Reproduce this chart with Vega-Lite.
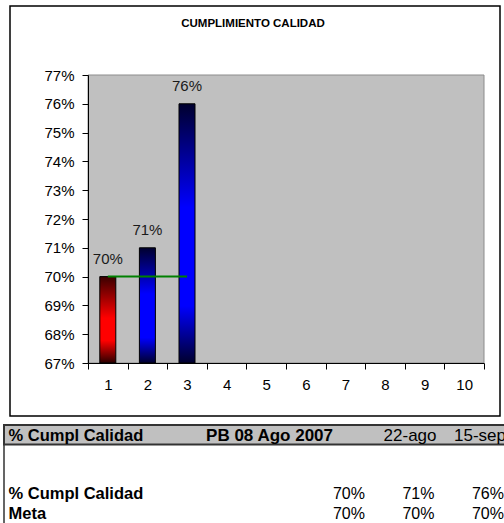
{
  "$schema": "https://vega.github.io/schema/vega-lite/v6.json",
  "background": "white",
  "padding": {"left": 2, "top": 5, "right": 0, "bottom": 0},
  "bounds": "flush",
  "center": true,
  "spacing": 9,
  "config": {"font": "Liberation Sans"},
  "datasets": {
    "calidad": [
      {"n": 1, "fecha": "PB 08 Ago 2007", "% Cumpl Calidad": 0.70, "Meta": 0.70},
      {"n": 2, "fecha": "22-ago", "% Cumpl Calidad": 0.71, "Meta": 0.70},
      {"n": 3, "fecha": "15-sep", "% Cumpl Calidad": 0.76, "Meta": 0.70}
    ]
  },
  "vconcat": [
    {
      "width": 490,
      "height": 410,
      "view": {"fill": "white", "stroke": "#000", "strokeWidth": 1.5},
      "title": {
        "text": "CUMPLIMIENTO CALIDAD",
        "fontSize": 11.5,
        "fontWeight": "bold",
        "color": "#000",
        "anchor": "middle",
        "baseline": "alphabetic",
        "offset": -32,
        "dx": -2
      },
      "layer": [
        {
          "data": {"values": [{}]},
          "mark": {"type": "rect", "fill": "#c0c0c0", "stroke": "#8c8c8c", "strokeWidth": 1},
          "encoding": {
            "x": {
              "datum": 0.5,
              "type": "quantitative",
              "scale": {"domain": [0.5, 10.5], "range": [78, 474], "nice": false, "zero": false, "padding": 0},
              "axis": {
                "orient": "bottom",
                "offset": -53,
                "zindex": 1,
                "title": null,
                "grid": false,
                "values": [0.5, 1, 1.5, 2, 2.5, 3, 3.5, 4, 4.5, 5, 5.5, 6, 6.5, 7, 7.5, 8, 8.5, 9, 9.5, 10, 10.5],
                "domainColor": "#000",
                "domainWidth": 1,
                "tickColor": "#000",
                "tickSize": 6,
                "tickOpacity": {"condition": {"test": "datum.value % 1 === 0", "value": 0}, "value": 1},
                "labelExpr": "datum.value % 1 === 0 ? format(datum.value, 'd') : ''",
                "labelFontSize": 15,
                "labelColor": "#000",
                "labelPadding": 8,
                "labelOverlap": false,
                "labelFlush": false,
                "labelBound": false
              }
            },
            "x2": {"datum": 10.5},
            "y": {
              "datum": 0.67,
              "type": "quantitative",
              "scale": {"domain": [0.67, 0.77], "range": [357, 69], "nice": false, "zero": false, "padding": 0},
              "axis": {
                "orient": "left",
                "offset": -78,
                "zindex": 1,
                "title": null,
                "grid": false,
                "values": [0.67, 0.68, 0.69, 0.7, 0.71, 0.72, 0.73, 0.74, 0.75, 0.76, 0.77],
                "format": ".0%",
                "domainColor": "#000",
                "domainWidth": 1,
                "tickColor": "#000",
                "tickSize": 6,
                "labelFontSize": 15,
                "labelColor": "#000",
                "labelPadding": 8,
                "labelOverlap": false,
                "labelFlush": false,
                "labelBound": false
              }
            },
            "y2": {"datum": 0.77}
          }
        },
        {
          "data": {"name": "calidad"},
          "encoding": {
            "x": {
              "field": "n",
              "type": "quantitative",
              "scale": {"domain": [0.5, 10.5], "range": [78, 474], "nice": false, "zero": false, "padding": 0},
              "axis": {
                "orient": "bottom",
                "offset": -53,
                "zindex": 1,
                "title": null,
                "grid": false,
                "values": [0.5, 1, 1.5, 2, 2.5, 3, 3.5, 4, 4.5, 5, 5.5, 6, 6.5, 7, 7.5, 8, 8.5, 9, 9.5, 10, 10.5],
                "domainColor": "#000",
                "domainWidth": 1,
                "tickColor": "#000",
                "tickSize": 6,
                "tickOpacity": {"condition": {"test": "datum.value % 1 === 0", "value": 0}, "value": 1},
                "labelExpr": "datum.value % 1 === 0 ? format(datum.value, 'd') : ''",
                "labelFontSize": 15,
                "labelColor": "#000",
                "labelPadding": 8,
                "labelOverlap": false,
                "labelFlush": false,
                "labelBound": false
              }
            },
            "y": {
              "field": "% Cumpl Calidad",
              "type": "quantitative",
              "scale": {"domain": [0.67, 0.77], "range": [357, 69], "nice": false, "zero": false, "padding": 0},
              "axis": {
                "orient": "left",
                "offset": -78,
                "zindex": 1,
                "title": null,
                "grid": false,
                "values": [0.67, 0.68, 0.69, 0.7, 0.71, 0.72, 0.73, 0.74, 0.75, 0.76, 0.77],
                "format": ".0%",
                "domainColor": "#000",
                "domainWidth": 1,
                "tickColor": "#000",
                "tickSize": 6,
                "labelFontSize": 15,
                "labelColor": "#000",
                "labelPadding": 8,
                "labelOverlap": false,
                "labelFlush": false,
                "labelBound": false
              }
            }
          },
          "layer": [
            {
              "transform": [{"filter": "datum.n === 1"}],
              "mark": {
                "type": "bar",
                "width": 16,
                "stroke": "#000",
                "strokeWidth": 1,
                "fill": {
                  "gradient": "linear", "x1": 0, "y1": 0, "x2": 0, "y2": 1,
                  "stops": [
                    {"offset": 0, "color": "#3a0000"},
                    {"offset": 0.48, "color": "#ff0000"},
                    {"offset": 0.74, "color": "#ff0000"},
                    {"offset": 1, "color": "#2a0000"}
                  ]
                }
              },
              "encoding": {"y2": {"datum": 0.67}}
            },
            {
              "transform": [{"filter": "datum.n !== 1"}],
              "mark": {
                "type": "bar",
                "width": 16,
                "stroke": "#000",
                "strokeWidth": 1,
                "fill": {
                  "gradient": "linear", "x1": 0, "y1": 0, "x2": 0, "y2": 1,
                  "stops": [
                    {"offset": 0, "color": "#00002e"},
                    {"offset": 0.4, "color": "#0000ff"},
                    {"offset": 0.78, "color": "#0000ff"},
                    {"offset": 1, "color": "#00002e"}
                  ]
                }
              },
              "encoding": {"y2": {"datum": 0.67}}
            },
            {
              "mark": {"type": "line", "color": "#008000", "strokeWidth": 2},
              "encoding": {"y": {"field": "Meta", "type": "quantitative"}}
            },
            {
              "mark": {"type": "text", "baseline": "alphabetic", "dy": -12.5, "fontSize": 15, "color": "#1a1a1a"},
              "encoding": {"text": {"field": "% Cumpl Calidad", "type": "quantitative", "format": ".0%"}}
            }
          ]
        }
      ]
    },
    {
      "width": 502,
      "height": 100,
      "view": {"fill": "white", "stroke": "#333", "strokeWidth": 1.5},
      "data": {"name": "calidad"},
      "layer": [
        {
          "data": {"values": [{}]},
          "mark": {"type": "rect", "fill": "#c0c0c0", "stroke": "#333", "strokeWidth": 2},
          "encoding": {
            "y": {
              "datum": "fechas",
              "type": "nominal",
              "scale": {"domain": ["fechas", "blanco1", "blanco2", "% Cumpl Calidad", "Meta"], "range": [0, 97.5], "paddingInner": 0, "paddingOuter": 0}
            }
          }
        },
        {
          "transform": [{"fold": ["% Cumpl Calidad", "Meta"], "as": ["fila", "valor"]}],
          "mark": {"type": "text", "align": "right", "baseline": "alphabetic", "fontSize": 16, "dy": 5.75, "color": "#000"},
          "encoding": {
            "x": {
              "field": "fecha",
              "type": "nominal",
              "scale": {"type": "point", "domain": ["PB 08 Ago 2007", "22-ago", "15-sep"], "range": [361, 500], "padding": 0},
              "axis": null
            },
            "y": {
              "field": "fila",
              "type": "nominal",
              "axis": {
                "orient": "left",
                "zindex": 1,
                "domain": false,
                "ticks": false,
                "tickSize": 0,
                "title": "% Cumpl Calidad",
                "titleAngle": 0,
                "titleAlign": "left",
                "titleBaseline": "alphabetic",
                "titleX": 4,
                "titleY": 15.5,
                "titleFontSize": 16.5,
                "titleFontWeight": "bold",
                "titleColor": "#000",
                "labelAlign": "left",
                "labelBaseline": "alphabetic",
                "labelPadding": -4,
                "labelOffset": 5.75,
                "labelFontSize": 16.5,
                "labelFontWeight": "bold",
                "labelColor": "#000",
                "labelOverlap": false,
                "labelBound": false,
                "labelExpr": "datum.value === '% Cumpl Calidad' || datum.value === 'Meta' ? datum.value : ''"
              }
            },
            "text": {"field": "valor", "type": "quantitative", "format": ".0%"}
          }
        },
        {
          "transform": [{"filter": "datum.n === 1"}],
          "mark": {"type": "text", "align": "right", "baseline": "alphabetic", "fontSize": 17, "fontWeight": "bold", "dx": -32, "dy": 5.75, "color": "#000"},
          "encoding": {
            "x": {"field": "fecha", "type": "nominal", "axis": null},
            "y": {"datum": "fechas", "type": "nominal"},
            "text": {"field": "fecha"}
          }
        },
        {
          "transform": [{"filter": "datum.n !== 1"}],
          "mark": {"type": "text", "align": "right", "baseline": "alphabetic", "fontSize": 17, "dx": 2, "dy": 5.75, "color": "#000"},
          "encoding": {
            "x": {"field": "fecha", "type": "nominal", "axis": null},
            "y": {"datum": "fechas", "type": "nominal"},
            "text": {"field": "fecha"}
          }
        }
      ]
    }
  ]
}
